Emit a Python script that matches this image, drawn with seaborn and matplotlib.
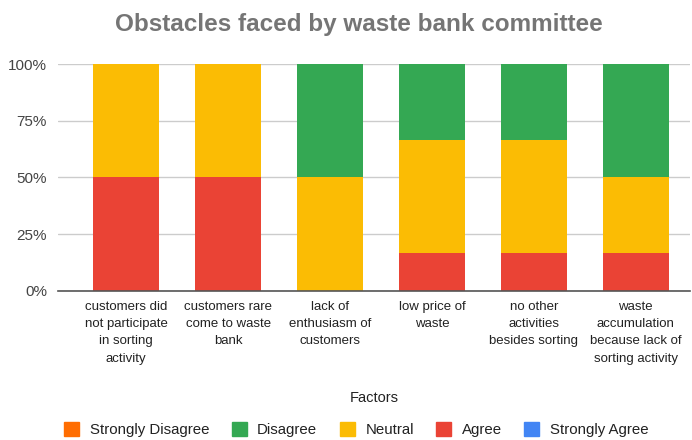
import numpy as np
import pandas as pd
import matplotlib
matplotlib.use("Agg")
import matplotlib.pyplot as plt
import seaborn as sns
from matplotlib.patches import Patch

# Survey factors (wrapped as shown on the axis)
factors = [
    "customers did\nnot participate\nin sorting\nactivity",
    "customers rare\ncome to waste\nbank",
    "lack of\nenthusiasm of\ncustomers",
    "low price of\nwaste",
    "no other\nactivities\nbesides sorting",
    "waste\naccumulation\nbecause lack of\nsorting activity",
]

# Number of committee responses per answer
strongly_disagree = [0, 0, 0, 0, 0, 0]
disagree = [0, 0, 3, 2, 2, 3]
neutral = [3, 3, 3, 3, 3, 2]
agree = [3, 3, 0, 1, 1, 1]
strongly_agree = [0, 0, 0, 0, 0, 0]

series_names = ["Strongly Disagree", "Disagree", "Neutral", "Agree", "Strongly Agree"]
series_colors = ["#FF6D01", "#34A853", "#FBBC04", "#EA4335", "#4285F4"]

sns.set_theme(style="white")
plt.rcParams["font.family"] = ["Liberation Sans", "DejaVu Sans"]

counts = {
    "Strongly Disagree": strongly_disagree,
    "Disagree": disagree,
    "Neutral": neutral,
    "Agree": agree,
    "Strongly Agree": strongly_agree,
}
df = pd.DataFrame(counts, index=factors)
share = df.div(df.sum(axis=1), axis=0)

fig = plt.figure(figsize=(6.92, 4.40), dpi=100)
ax = fig.add_axes([0.0838, 0.339, 0.913, 0.5155])

# stacking order from the baseline upward
stack_order = ["Agree", "Neutral", "Disagree", "Strongly Disagree", "Strongly Agree"]
color_of = dict(zip(series_names, series_colors))
bottom = np.zeros(len(factors))
for name in stack_order:
    vals = share[name].values
    sns.barplot(x=list(share.index), y=vals, bottom=bottom, color=color_of[name],
                width=0.65, ax=ax, saturation=1, linewidth=0, order=list(share.index))
    bottom = bottom + vals

ax.set_ylim(0, 1)
ax.set_xlim(-0.67, 5.53)
ax.set_yticks([0, 0.25, 0.5, 0.75, 1.0])
ax.set_yticklabels(["0%", "25%", "50%", "75%", "100%"])
ax.yaxis.grid(True, color="#cccccc", linewidth=1)
ax.set_axisbelow(True)
for s in ["left", "right", "top"]:
    ax.spines[s].set_visible(False)
ax.spines["bottom"].set_color("#555555")
ax.spines["bottom"].set_linewidth(1.2)
ax.tick_params(axis="y", length=0, pad=8, labelsize=11, labelcolor="#444444")
ax.tick_params(axis="x", length=0, pad=7, labelsize=9.5, labelcolor="#222222")
for lbl in ax.get_xticklabels():
    lbl.set_linespacing(1.6)
    lbl.set_va("top")
    lbl.set_ha("center")

ax.set_xlabel("Factors", fontsize=10.5, color="#222222")
ax.xaxis.set_label_coords(0.5, -0.44, transform=ax.transAxes)
ax.set_ylabel("")

fig.text(0.518, 0.945, "Obstacles faced by waste bank committee", ha="center", va="center",
         fontsize=17.5, fontweight="bold", color="#757575")

handles = [Patch(facecolor=c, edgecolor=c, label=n) for n, c in zip(series_names, series_colors)]
fig.legend(handles=handles, loc="center", bbox_to_anchor=(0.515, 0.023), ncol=5,
           frameon=False, fontsize=10.8, handlelength=1.0, handleheight=1.0,
           handletextpad=0.7, columnspacing=1.5, labelcolor="#222222")

fig.savefig("out.png", dpi=100)
